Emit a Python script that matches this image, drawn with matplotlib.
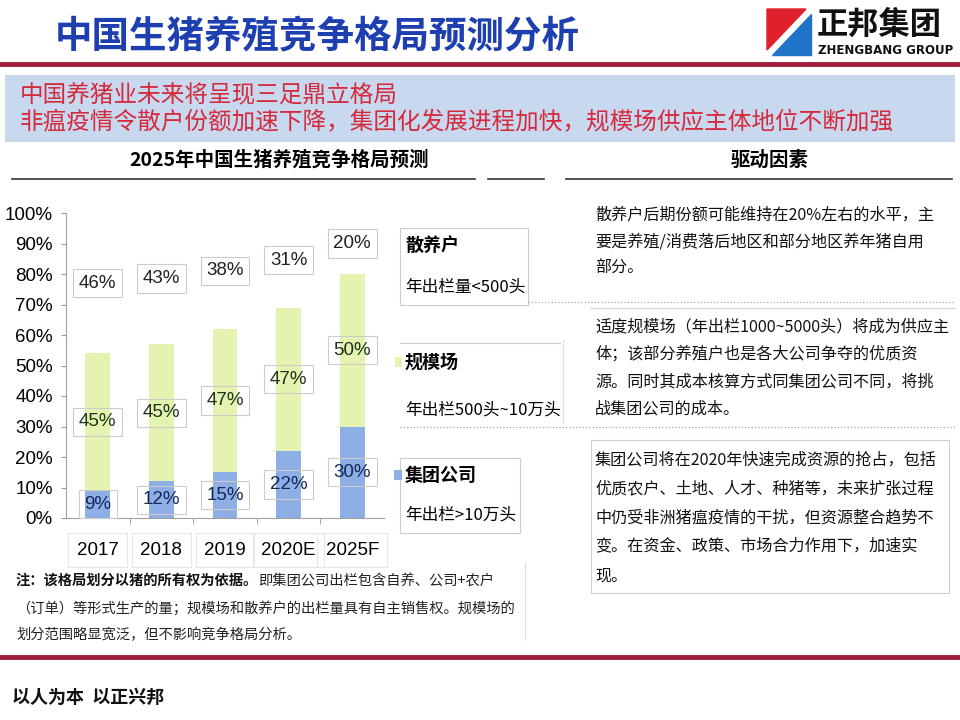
import matplotlib
matplotlib.use('Agg')
import matplotlib.pyplot as plt
from matplotlib import font_manager
from matplotlib.patches import Rectangle, Polygon
from matplotlib.lines import Line2D

# data
years = ['2017', '2018', '2019', '2020E', '2025F']
group_share = [9, 12, 15, 22, 30]    # 集团公司
scale_share = [45, 45, 47, 47, 50]   # 规模场
small_share = [46, 43, 38, 31, 20]   # 散养户
y_ticks = [0, 10, 20, 30, 40, 50, 60, 70, 80, 90, 100]

legend_names = ['散养户', '规模场', '集团公司']
legend_notes = ['年出栏量<500头', '年出栏500头~10万头', '年出栏>10万头']

title = '中国生猪养殖竞争格局预测分析'
banner = ['中国养猪业未来将呈现三足鼎立格局',
          '非瘟疫情令散户份额加速下降，集团化发展进程加快，规模场供应主体地位不断加强']
chart_title = '2025年中国生猪养殖竞争格局预测'
side_title = '驱动因素'
block1 = ['散养户后期份额可能维持在20%左右的水平，主',
          '要是养殖/消费落后地区和部分地区养年猪自用',
          '部分。']
block2 = ['适度规模场（年出栏1000~5000头）将成为供应主',
          '体；该部分养殖户也是各大公司争夺的优质资',
          '源。同时其成本核算方式同集团公司不同，将挑',
          '战集团公司的成本。']
block3 = ['集团公司将在2020年快速完成资源的抢占，包括',
          '优质农户、土地、人才、种猪等，未来扩张过程',
          '中仍受非洲猪瘟疫情的干扰，但资源整合趋势不',
          '变。在资金、政策、市场合力作用下，加速实',
          '现。']
note_bold = '注：该格局划分以猪的所有权为依据。'
note_lines = ['即集团公司出栏包含自养、公司+农户',
              '（订单）等形式生产的量；规模场和散养户的出栏量具有自主销售权。规模场的',
              '划分范围略显宽泛，但不影响竞争格局分析。']
slogan = '以人为本  以正兴邦'

plt.rcParams['font.family'] = ['Noto Sans CJK SC', 'DejaVu Sans']
installed = {f.name for f in font_manager.fontManager.ttflist}
if 'Liberation Sans Narrow' in installed:
    NUM = ['Liberation Sans Narrow', 'DejaVu Sans']
    num_size = 15
else:
    NUM = ['Liberation Sans', 'DejaVu Sans']
    num_size = 13.5

BLUE = '#8EAEE6'
GREEN = '#E4F3B0'
DARKRED = '#A01D3C'
GREY = '#CCCCCC'

W, H = 960, 720
fig = plt.figure(figsize=(9.6, 7.2), dpi=100)


def fx(x):
    return x / W


def fy(y):
    return 1 - y / H


def put(x, y, s, **kw):
    kw.setdefault('va', 'center')
    return fig.text(fx(x), fy(y), s, **kw)


def hline(x0, x1, y, **kw):
    fig.add_artist(Line2D([fx(x0), fx(x1)], [fy(y), fy(y)], **kw))


def vline(x, y0, y1, **kw):
    fig.add_artist(Line2D([fx(x), fx(x)], [fy(y0), fy(y1)], **kw))


def box(x0, y0, x1, y1, **kw):
    fig.add_artist(Rectangle((fx(x0), fy(y1)), (x1 - x0) / W, (y1 - y0) / H,
                             transform=fig.transFigure, **kw))


# header
put(55, 37, title, fontsize=27, weight='bold', color='#1E3FAF')
fig.add_artist(Polygon([(fx(767), fy(9)), (fx(806), fy(9)), (fx(767), fy(50))],
                       closed=True, color='#E0202A', transform=fig.transFigure))
fig.add_artist(Polygon([(fx(811), fy(14)), (fx(811), fy(55)), (fx(772), fy(55))],
                       closed=True, color='#1F74C8', transform=fig.transFigure))
put(817, 25, '正邦集团', fontsize=22.5, weight='bold', color='#111111')
put(818, 51, 'ZHENGBANG GROUP', fontsize=8.5, weight='bold', color='#111111',
    family=['DejaVu Sans'])
hline(0, 960, 64, color=DARKRED, lw=3.5)

box(5, 75, 955, 142, fc='#C8D8EE', ec='none')
put(20, 95, banner[0], fontsize=17, color='#D42A3C')
put(20, 123, banner[1], fontsize=17, color='#D42A3C')

put(279, 160, chart_title, fontsize=14, weight='bold', ha='center')
put(770, 160, side_title, fontsize=14, weight='bold', ha='center')
for x0, x1 in [(12, 475), (488, 544), (566, 952)]:
    hline(x0, x1, 179, color='#333333', lw=1.2)

# chart
ax = fig.add_axes([fx(66), fy(518), (384 - 66) / W, (518 - 213) / H])
pos = list(range(len(years)))
mid = [g + s for g, s in zip(group_share, scale_share)]
ax.bar(pos, group_share, width=0.39, color=BLUE)
ax.bar(pos, scale_share, width=0.39, bottom=group_share, color=GREEN)
ax.bar(pos, small_share, width=0.39, bottom=mid, fill=False, lw=0)

lab_box = dict(boxstyle='square,pad=0.3', fc='none', ec=GREY, lw=0.8)
for i in pos:
    ax.text(i, group_share[i] / 2, f'{group_share[i]}%', ha='center', va='center',
            family=NUM, fontsize=num_size, color='#14285A', bbox=lab_box)
    ax.text(i, group_share[i] + scale_share[i] / 2, f'{scale_share[i]}%', ha='center',
            va='center', family=NUM, fontsize=num_size, color='#1E3318', bbox=lab_box)
    ax.text(i, mid[i] + small_share[i] / 2, f'{small_share[i]}%', ha='center',
            va='center', family=NUM, fontsize=num_size, color='#222222', bbox=lab_box)

ax.set_xlim(-0.5, len(years) - 0.5)
ax.set_ylim(0, 100)
ax.set_yticks(y_ticks)
ax.set_yticklabels([f'{v}%' for v in y_ticks], family=NUM, fontsize=num_size)
ax.set_xticks(pos)
ax.set_xticklabels(years, family=NUM, fontsize=num_size)
for t in ax.get_xticklabels():
    t.set_bbox(dict(boxstyle='square,pad=0.45', fc='none', ec='#E6E6E6', lw=0.8))
ax.set_xticks([p + 0.5 for p in pos[:-1]], minor=True)
ax.tick_params(axis='y', direction='out', length=3.5, color='#999999', pad=6)
ax.tick_params(axis='x', which='major', length=0, pad=17)
ax.tick_params(axis='x', which='minor', direction='out', length=4.5, color='#999999')
for side in ['top', 'right']:
    ax.spines[side].set_visible(False)
for side in ['left', 'bottom']:
    ax.spines[side].set_color('#A0A0A0')
    ax.spines[side].set_linewidth(0.8)

# legend on the right of the bars
box(400, 228, 528, 305, fc='none', ec=GREY, lw=0.8)
hline(400, 560, 343, color=GREY, lw=0.8)
box(400, 458, 520, 533, fc='none', ec=GREY, lw=0.8)
box(395, 357, 402, 367, fc=GREEN, ec='none')
box(394, 470, 402, 480, fc=BLUE, ec='none')
leg_y = [(245, 287), (362, 410), (475, 515)]
for name, note, (y1, y2) in zip(legend_names, legend_notes, leg_y):
    put(405, y1, name, fontsize=13, weight='bold')
    put(405, y2, note, fontsize=12)

# driving factors
hline(528, 955, 302, color='#AAAAAA', lw=0.9, ls=':')
hline(400, 955, 427, color='#AAAAAA', lw=0.9, ls=':')
hline(590, 955, 308, color='#D5D5D5', lw=0.8)
vline(563, 340, 423, color='#DDDDDD', lw=0.8)
box(591, 440, 949, 593, fc='none', ec='#CFCFCF', lw=0.8)
for lines, ys in [(block1, [215, 242, 268]),
                  (block2, [327, 354, 382, 409]),
                  (block3, [460, 489, 518, 546, 576])]:
    for s, y in zip(lines, ys):
        put(595, y, s, fontsize=11.6, color='#111111')

# note under the chart
t1 = put(16, 581, note_bold, fontsize=10.3, weight='bold', color='#111111')
ax.annotate(note_lines[0], xy=(1, 0.5), xycoords=t1, va='center', ha='left',
            fontsize=10.3, color='#222222', annotation_clip=False)
put(16, 608, note_lines[1], fontsize=10.3, color='#222222')
put(16, 635, note_lines[2], fontsize=10.3, color='#222222')
vline(525, 563, 640, color='#DDDDDD', lw=0.8)

# footer
hline(0, 960, 657, color=DARKRED, lw=3.5)
put(12, 697, slogan, fontsize=13, weight='bold', color='#111111')

fig.savefig('out.png', dpi=100)
